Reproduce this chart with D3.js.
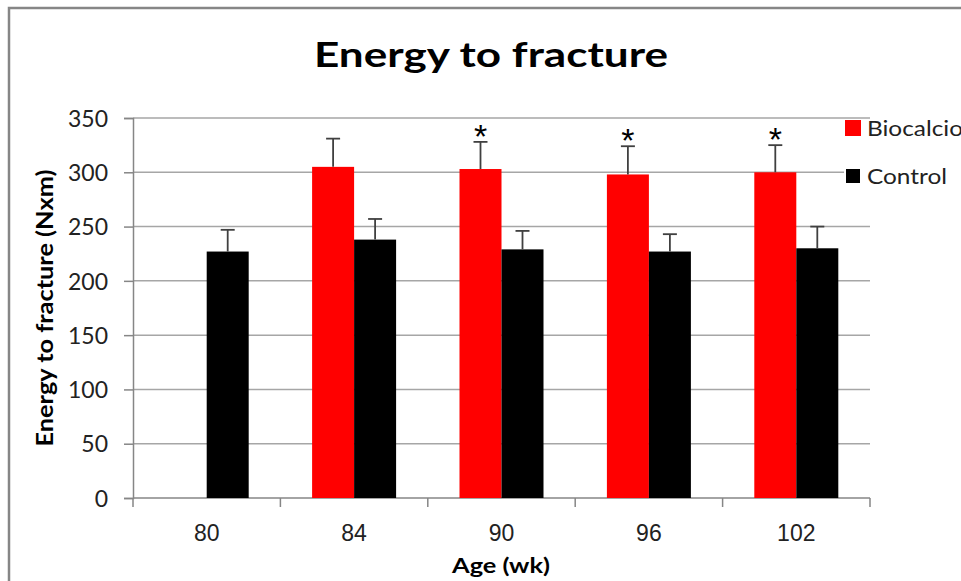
<!DOCTYPE html>
<html>
<head>
<meta charset="utf-8">
<script src="https://cdn.jsdelivr.net/npm/d3@7"></script>
<style>
  body { margin: 0; background: #fff; }
  svg { display: block; }
</style>
</head>
<body>
<svg id="chart" width="961" height="581"></svg>
<script>
var categories = ["80", "84", "90", "96", "102"];
var seriesNames = ["Biocalcio", "Control"];
var biocalcio = [null, 305, 303, 298, 300];
var biocalcioErr = [null, 26, 25, 26, 25];
var control = [227, 238, 229, 227, 230];
var controlErr = [20, 19, 17, 16, 20];
var significant = [false, false, true, true, true];
var yTicks = [0, 50, 100, 150, 200, 250, 300, 350];

var color = { "Biocalcio": "#ff0000", "Control": "#000000" };
var uiFont = "Lato, 'Open Sans', sans-serif";

var svg = d3.select("#chart");
var plot = { left: 133, right: 870, top: 118, bottom: 498 };

// outer frame (right/bottom fall outside the picture)
svg.append("rect")
  .attr("x", 9).attr("y", 8).attr("width", 1000).attr("height", 1000)
  .attr("fill", "none").attr("stroke", "#868686").attr("stroke-width", 2.5);

var x0 = d3.scaleBand().domain(categories).range([plot.left, plot.right]).paddingInner(0).paddingOuter(0);
var barW = 42;
var x1 = d3.scaleBand().domain(seriesNames)
  .range([(x0.bandwidth() - 2 * barW) / 2, (x0.bandwidth() + 2 * barW) / 2]);
var y = d3.scaleLinear().domain([0, 350]).range([plot.bottom, plot.top]);

// gridlines
svg.append("g").selectAll("line").data(yTicks.filter(function(d) { return d > 0; })).enter().append("line")
  .attr("x1", plot.left).attr("x2", plot.right)
  .attr("y1", function(d) { return y(d); }).attr("y2", function(d) { return y(d); })
  .attr("stroke", "#a6a6a6").attr("stroke-width", 1.5);

// y axis
var yAxis = svg.append("g").attr("transform", "translate(" + plot.left + ",0)")
  .call(d3.axisLeft(y).tickValues(yTicks).tickSize(9).tickPadding(16));
yAxis.select(".domain").attr("stroke", "#868686").attr("stroke-width", 1.5);
yAxis.selectAll(".tick line").attr("stroke", "#868686").attr("stroke-width", 1.5);
yAxis.selectAll(".tick text").attr("font-family", uiFont)
  .attr("font-size", 23).attr("fill", "#222").attr("dy", "0.36em");

// x axis: ticks at category boundaries
var xg = svg.append("g").attr("transform", "translate(0," + plot.bottom + ")");
xg.append("line").attr("x1", plot.left).attr("x2", plot.right)
  .attr("stroke", "#868686").attr("stroke-width", 1.5);
var bounds = categories.map(function(c) { return x0(c); }).concat([plot.right]);
xg.selectAll("line.tk").data(bounds).enter().append("line").attr("class", "tk")
  .attr("x1", function(d) { return d; }).attr("x2", function(d) { return d; })
  .attr("y1", 0).attr("y2", 9).attr("stroke", "#868686").attr("stroke-width", 1.5);
xg.selectAll("text").data(categories).enter().append("text")
  .attr("x", function(d) { return x0(d) + x0.bandwidth() / 2; })
  .attr("y", 43).attr("text-anchor", "middle")
  .attr("font-family", "'Liberation Sans', Arial, sans-serif").attr("font-size", 23).attr("fill", "#222")
  .text(function(d) { return d; });

// bars
var rows = categories.map(function(c, i) {
  return [
    { cat: c, name: "Biocalcio", value: biocalcio[i], err: biocalcioErr[i], sig: significant[i] },
    { cat: c, name: "Control", value: control[i], err: controlErr[i], sig: false }
  ].filter(function(d) { return d.value !== null; });
});
var flat = [].concat.apply([], rows);

function cx(d) { return x0(d.cat) + x1(d.name) + x1.bandwidth() / 2; }

svg.append("g").selectAll("rect").data(flat).enter().append("rect")
  .attr("x", function(d) { return x0(d.cat) + x1(d.name); })
  .attr("y", function(d) { return y(d.value); })
  .attr("width", x1.bandwidth())
  .attr("height", function(d) { return y(0) - y(d.value); })
  .attr("fill", function(d) { return color[d.name]; });

// upper error bars
var eb = svg.append("g").attr("stroke", "#404040").attr("stroke-width", 1.8);
eb.selectAll("line.v").data(flat).enter().append("line").attr("class", "v")
  .attr("x1", cx).attr("x2", cx)
  .attr("y1", function(d) { return y(d.value); })
  .attr("y2", function(d) { return y(d.value + d.err); });
eb.selectAll("line.c").data(flat).enter().append("line").attr("class", "c")
  .attr("x1", function(d) { return cx(d) - 7; })
  .attr("x2", function(d) { return cx(d) + 7; })
  .attr("y1", function(d) { return y(d.value + d.err); })
  .attr("y2", function(d) { return y(d.value + d.err); });

// significance stars
svg.append("g").selectAll("text").data(flat.filter(function(d) { return d.sig; })).enter().append("text")
  .attr("x", cx)
  .attr("y", function(d) { return y(d.value + d.err) + 6; })
  .attr("text-anchor", "middle")
  .attr("font-family", "'Liberation Sans', Arial, sans-serif").attr("font-size", 34).attr("fill", "#000")
  .text("*");

// title
svg.append("text").attr("x", 491).attr("y", 67).attr("text-anchor", "middle")
  .attr("font-family", uiFont).attr("font-weight", "bold").attr("font-size", 34)
  .attr("textLength", 354).attr("lengthAdjust", "spacingAndGlyphs")
  .attr("fill", "#000").text("Energy to fracture");

// axis titles
svg.append("text").attr("transform", "translate(53,308) rotate(-90)").attr("text-anchor", "middle")
  .attr("font-family", uiFont).attr("font-weight", "bold").attr("font-size", 22)
  .attr("textLength", 277).attr("lengthAdjust", "spacingAndGlyphs")
  .attr("fill", "#000").text("Energy to fracture (Nxm)");
svg.append("text").attr("x", 501).attr("y", 573).attr("text-anchor", "middle")
  .attr("font-family", uiFont).attr("font-weight", "bold").attr("font-size", 21)
  .attr("textLength", 98).attr("lengthAdjust", "spacingAndGlyphs")
  .attr("fill", "#000").text("Age (wk)");

// legend
var legend = svg.append("g");
legend.append("rect").attr("x", 844).attr("y", 119).attr("width", 130).attr("height", 70).attr("fill", "#fff");
var legendItems = [
  { name: "Biocalcio", y: 128, size: 16, len: 96 },
  { name: "Control", y: 176, size: 14, len: 80 }
];
legendItems.forEach(function(it) {
  legend.append("rect").attr("x", 853 - it.size / 2).attr("y", it.y - it.size / 2)
    .attr("width", it.size).attr("height", it.size).attr("fill", color[it.name]);
  legend.append("text").attr("x", 867).attr("y", it.y + 8)
    .attr("font-family", uiFont).attr("font-size", 22).attr("fill", "#222")
    .attr("textLength", it.len).attr("lengthAdjust", "spacingAndGlyphs")
    .text(it.name);
});
</script>
</body>
</html>
